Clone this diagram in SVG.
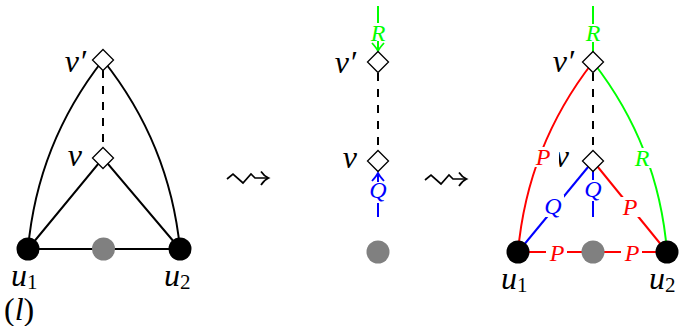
<svg xmlns="http://www.w3.org/2000/svg" width="680" height="326" viewBox="0 0 680 326">
<defs>
<style>
.e{fill:none;stroke-width:2;stroke-linecap:butt}
.k{stroke:#000}
.r{stroke:#ff0000}
.g{stroke:#00ff00}
.b{stroke:#0000ff}
.d{stroke:#000;stroke-dasharray:8 8}
.dia{fill:#fff;stroke:#000;stroke-width:1.3}
.blk{fill:#000}
.gry{fill:#808080}
.lab{font-family:"Liberation Serif","Times New Roman",serif;font-style:italic;font-size:32px;fill:#000}
.sub{font-style:normal;font-size:21px}
.el{font-family:"Liberation Serif","Times New Roman",serif;font-style:italic;font-size:24px;text-anchor:middle}
.bg{fill:#fff}
.sq{fill:none;stroke:#000;stroke-width:1.7;stroke-linejoin:miter}
</style>
<marker id="ahg" viewBox="-10 -7 12 14" refX="0" refY="0" markerWidth="12" markerHeight="14" markerUnits="userSpaceOnUse" orient="auto">
<path d="M-8,-6 Q-3,-1.5 0,0 Q-3,1.5 -8,6" fill="none" stroke="#00ff00" stroke-width="1.8"/>
</marker>
<marker id="ahb" viewBox="-10 -7 12 14" refX="0" refY="0" markerWidth="12" markerHeight="14" markerUnits="userSpaceOnUse" orient="auto">
<path d="M-8,-6 Q-3,-1.5 0,0 Q-3,1.5 -8,6" fill="none" stroke="#0000ff" stroke-width="1.8"/>
</marker>
</defs>

<g id="connectors">
<path class="e k" d="M28,249 Q37.5,143.5 103,60"/>
<path class="e k" d="M103,60 Q169.5,143.5 180,249"/>
<path class="e k" d="M28,249 L103,158 L180,249"/>
<path class="e k" d="M28,249 L180,249"/>
<path class="e d" d="M103,70 L103,148"/>
<path class="e g" d="M378,6 L378,51" marker-end="url(#ahg)"/>
<path class="e d" d="M378,73 L378,150"/>
<path class="e b" d="M378,217 L378,173" marker-end="url(#ahb)"/>
<path class="e g" d="M593,6 L593,62"/>
<path class="e r" d="M518,252 Q527.5,146 593,62"/>
<path class="e g" d="M593,62 Q658.5,146 667,252"/>
<path class="e d" d="M593,73 L593,150"/>
<path class="e b" d="M518,252 L593,161"/>
<path class="e b" d="M593,161 L593,217"/>
<path class="e r" d="M593,161 L667,252"/>
<path class="e r" d="M518,252 L667,252"/>
<path class="sq" d="M227,179 L233,174 L243,183 L251,174 L255,178 L268,178"/>
<path class="sq" d="M261,171.5 Q264,176 268.5,178 Q264,180 261,185"/>
<path class="sq" d="M425,180 L431,175 L441,184 L449,175 L453,179 L466,179"/>
<path class="sq" d="M459,172.5 Q462,177 466.5,179 Q462,181 459,186"/>
</g>

<g id="edge-labels">
<rect class="bg" x="368" y="23" width="20" height="18"/>
<text class="el" x="378" y="40.5" fill="#00ff00">R</text>
<rect class="bg" x="368" y="182" width="20" height="21"/>
<text class="el" x="378" y="198" fill="#0000ff">Q</text>
<rect class="bg" x="583" y="24" width="20" height="18"/>
<text class="el" x="593" y="41" fill="#00ff00">R</text>
<text class="lab" x="569" y="167" text-anchor="end">v</text>
<rect class="bg" x="531" y="147" width="28" height="20"/>
<text class="el" x="543" y="165" fill="#ff0000">P</text>
<rect class="bg" x="632" y="148" width="20" height="20"/>
<text class="el" x="642" y="166" fill="#00ff00">R</text>
<rect class="bg" x="542" y="195" width="22" height="22"/>
<text class="el" x="553" y="214" fill="#0000ff">Q</text>
<rect class="bg" x="583" y="180" width="20" height="21"/>
<text class="el" x="593" y="197" fill="#0000ff">Q</text>
<rect class="bg" x="619" y="197" width="22" height="20"/>
<text class="el" x="630" y="215" fill="#ff0000">P</text>
<rect class="bg" x="546" y="242" width="21" height="20"/>
<text class="el" x="557" y="260.5" fill="#ff0000">P</text>
<rect class="bg" x="621" y="242" width="21" height="20"/>
<text class="el" x="632" y="260.5" fill="#ff0000">P</text>
</g>

<g id="nodes">
<g id="node-vp1"><path class="dia" d="M103,49.5 L113.5,60 L103,70.5 L92.5,60 Z"/><text class="lab" x="86" y="72" text-anchor="end">v′</text></g>
<g id="node-v1"><path class="dia" d="M103,147.5 L113.5,158 L103,168.5 L92.5,158 Z"/><text class="lab" x="82" y="166" text-anchor="end">v</text></g>
<g id="node-u1a"><circle class="blk" cx="28" cy="249" r="11.5"/><text class="lab" x="11" y="286">u<tspan class="sub" dy="3">1</tspan></text></g>
<g id="node-g1"><circle class="gry" cx="103.5" cy="249" r="11.5"/></g>
<g id="node-u2a"><circle class="blk" cx="180" cy="249" r="11.5"/><text class="lab" x="164" y="286">u<tspan class="sub" dy="3">2</tspan></text></g>
<g id="label-l"><text class="lab" x="4" y="320"><tspan font-style="normal">(</tspan>l<tspan font-style="normal">)</tspan></text></g>
<g id="node-vp2"><path class="dia" d="M378,51.5 L388.5,62 L378,72.5 L367.5,62 Z"/><text class="lab" x="356" y="73" text-anchor="end">v′</text></g>
<g id="node-v2"><path class="dia" d="M378,150.5 L388.5,161 L378,171.5 L367.5,161 Z"/><text class="lab" x="357" y="168" text-anchor="end">v</text></g>
<g id="node-g2"><circle class="gry" cx="378" cy="252" r="11.5"/></g>
<g id="node-vp3"><path class="dia" d="M593,51.5 L603.5,62 L593,72.5 L582.5,62 Z"/><text class="lab" x="574" y="72" text-anchor="end">v′</text></g>
<g id="node-v3"><path class="dia" d="M593,150.5 L603.5,161 L593,171.5 L582.5,161 Z"/></g>
<g id="node-u1b"><circle class="blk" cx="518" cy="252" r="11.5"/><text class="lab" x="501" y="289">u<tspan class="sub" dy="3">1</tspan></text></g>
<g id="node-g3"><circle class="gry" cx="593" cy="252" r="11.5"/></g>
<g id="node-u2b"><circle class="blk" cx="667" cy="252" r="11.5"/><text class="lab" x="649" y="289">u<tspan class="sub" dy="3">2</tspan></text></g>
</g>
</svg>
